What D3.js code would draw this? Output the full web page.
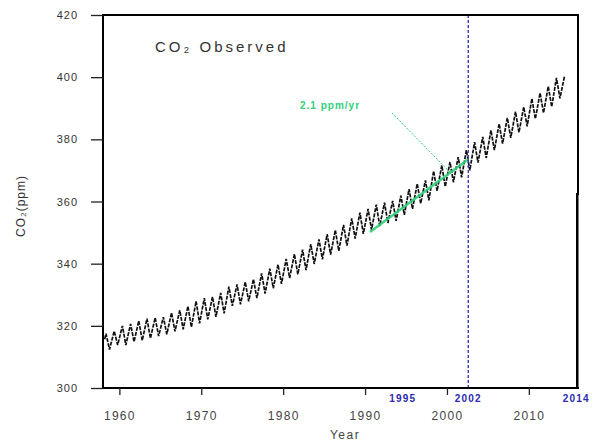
<!DOCTYPE html>
<html><head><meta charset="utf-8">
<script src="https://cdn.jsdelivr.net/npm/d3@7"></script>
<style>html,body{margin:0;padding:0;background:#fff;overflow:hidden}svg{display:block}</style>
</head><body><svg id="c" width="596" height="441"></svg>
<script>
const years = [1958,1959,1960,1961,1962,1963,1964,1965,1966,1967,1968,1969,1970,1971,1972,1973,1974,1975,1976,1977,1978,1979,1980,1981,1982,1983,1984,1985,1986,1987,1988,1989,1990,1991,1992,1993,1994,1995,1996,1997,1998,1999,2000,2001,2002,2003,2004,2005,2006,2007,2008,2009,2010,2011,2012,2013,2014];
const peaks = [317.5,318.3,320.0,320.6,321.6,322.3,322.6,322.8,324.2,325.0,326.3,327.9,328.9,329.3,330.6,332.6,333.3,334.1,335.0,336.9,338.4,339.7,341.5,343.1,344.5,346.3,347.8,349.5,350.8,352.5,354.6,356.4,357.6,359.0,359.6,360.2,361.9,364.0,365.7,366.8,369.8,371.6,372.7,374.3,376.5,379.1,380.8,382.9,385.0,386.9,388.9,390.4,393.1,394.9,397.0,399.8,400.5];
const troughs = [312.4,313.8,313.8,314.9,315.3,316.0,316.7,317.3,318.2,318.9,319.6,320.8,322.1,322.9,324.0,326.4,326.9,327.9,328.9,330.4,332.1,333.5,335.4,336.6,337.9,339.9,341.4,342.9,344.1,345.8,348.1,349.6,350.9,352.1,353.1,353.8,355.7,357.6,359.4,360.4,363.4,364.8,366.2,367.8,370.0,372.5,374.0,376.5,378.6,380.5,382.2,384.2,386.6,388.5,390.5,393.2,null];
const xTicks = [1960,1970,1980,1990,2000,2010];
const yTicks = [300,320,340,360,380,400,420];
const markLabels = ["1995","2002","2014"];
const markPos = [1994.6,2002.6,2015.8];
const trendYears = [1990.6,2002.6];
const trendVals = [350.2,373.6];
const trendLabel = "2.1 ppm/yr";
const title = "CO\u2082 Observed";

const svg = d3.select("#c");
const x = d3.scaleLinear().domain([1958,2016]).range([103,578]);
const y = d3.scaleLinear().domain([300,420]).range([388,15]);
const FONT = "Liberation Sans, Arial, sans-serif";

// build zigzag points
const pts = [];
years.forEach((yr,i)=>{
  if (yr===1958) { pts.push([1958.2, 315.7]); }
  if (peaks[i]!=null) pts.push([yr+0.37, peaks[i]]);
  if (troughs[i]!=null) pts.push([yr+0.79, troughs[i]]);
});

const line = d3.line().x(d=>x(d[0])).y(d=>y(d[1]));
svg.append("path").attr("d", line(pts)).attr("fill","none")
  .attr("stroke","#111").attr("stroke-width",1.7)
  .attr("stroke-dasharray","4,1.2");

// trend line
function trendAt(t){return trendVals[0]+(trendVals[1]-trendVals[0])*(t-trendYears[0])/(trendYears[1]-trendYears[0]);}
const tl = trendYears.map((t,i)=>[t,trendVals[i]]);
svg.append("path").attr("d", line(tl)).attr("fill","none")
  .attr("stroke","#2fcf7a").attr("stroke-width",2.6).attr("opacity",0.9);

// leader
svg.append("line").attr("x1",392).attr("y1",113).attr("x2",x(2000.4)).attr("y2",y(trendAt(2000.4)))
  .attr("stroke","#2fcf7a").attr("stroke-width",1).attr("stroke-dasharray","2,1.5");
svg.append("text").attr("x",300).attr("y",109).text(trendLabel)
  .attr("font-family",FONT).attr("font-size",10).attr("font-weight","bold")
  .attr("letter-spacing",1).attr("fill","#2fcf7a");

// dashed vertical line
svg.append("line").attr("x1",x(markPos[1])).attr("x2",x(markPos[1])).attr("y1",15).attr("y2",388)
  .attr("stroke","#2a2ab0").attr("stroke-width",1.3).attr("stroke-dasharray","3,2");

// frame
svg.append("rect").attr("x",102).attr("y",14).attr("width",2).attr("height",375).attr("fill","#000");
svg.append("rect").attr("x",102).attr("y",14).attr("width",477).attr("height",2).attr("fill","#000");
svg.append("rect").attr("x",102).attr("y",387).attr("width",477).attr("height",2).attr("fill","#000");
svg.append("rect").attr("x",577).attr("y",14).attr("width",2).attr("height",181).attr("fill","#000");
svg.append("rect").attr("x",576).attr("y",193).attr("width",2.5).attr("height",196).attr("fill","#000");

// y axis
const ya = svg.append("g").attr("transform","translate(103,0)")
  .call(d3.axisLeft(y).tickValues(yTicks).tickSize(12).tickPadding(13));
ya.select(".domain").remove();
ya.selectAll(".tick line").attr("stroke","#222").attr("stroke-width",1.3);
ya.selectAll(".tick text").attr("font-family",FONT)
  .attr("font-size",11).attr("letter-spacing",1).attr("fill","#333");

// x axis
const xa = svg.append("g").attr("transform","translate(0,388)")
  .call(d3.axisBottom(x).tickValues(xTicks).tickFormat(d3.format("d")).tickSize(7).tickPadding(16));
xa.select(".domain").remove();
xa.selectAll(".tick line").attr("stroke","#222").attr("stroke-width",1.3);
xa.selectAll(".tick text").attr("font-family",FONT)
  .attr("font-size",12).attr("letter-spacing",1.3).attr("fill","#444");

// blue labels
svg.selectAll(".ml").data(markLabels).enter().append("text")
  .attr("x",(d,i)=>x(markPos[i])).attr("y",402).attr("text-anchor","middle").text(d=>d)
  .attr("font-family",FONT).attr("font-size",10).attr("font-weight","bold")
  .attr("letter-spacing",1.2).attr("fill","#2a2ab0");

// title
svg.append("text").attr("x",155).attr("y",52).attr("font-family",FONT)
  .attr("font-size",15).attr("letter-spacing",3).attr("fill","#333").text(title);

// axis titles
svg.append("text").attr("transform","translate(25,206) rotate(-90)").attr("text-anchor","middle")
  .attr("font-family",FONT).attr("font-size",12).attr("letter-spacing",1)
  .attr("fill","#333").text("CO\u2082(ppm)");
svg.append("text").attr("x",345).attr("y",439).attr("text-anchor","middle")
  .attr("font-family",FONT).attr("font-size",12).attr("letter-spacing",1.5)
  .attr("fill","#444").text("Year");
</script></body></html>
